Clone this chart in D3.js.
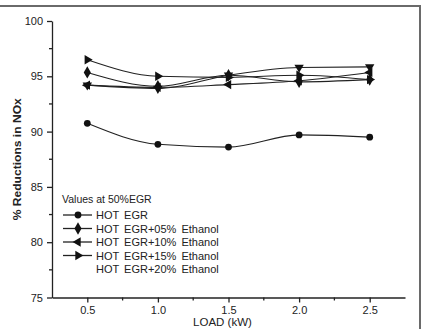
<!DOCTYPE html>
<html>
<head>
<meta charset="utf-8">
<script src="https://cdn.jsdelivr.net/npm/d3@7"></script>
<style>
  body { margin: 0; background: #fff; }
  svg { display: block; font-family: "Liberation Sans", Arial, sans-serif; }
  .axis path, .axis line { stroke: #222; stroke-width: 1.3px; }
  .axis text { fill: #222; font-size: 11px; }
  .series { fill: none; stroke: #222; stroke-width: 1.1px; }
</style>
</head>
<body>
<svg id="chart"></svg>
<script>
// loads in kW
var loads = [0.5, 1.0, 1.5, 2.0, 2.5];

// % reduction in NOx
var hotEgr     = [90.75, 88.85, 88.6, 89.7, 89.5];
var ethanol05  = [95.35, 94.1, 95.1, 94.5, 94.7];
var ethanol10  = [94.2, 94.0, 94.25, 94.6, 95.35];
var ethanol15  = [96.5, 95.0, 94.9, 95.1, 94.7];
var ethanol20  = [94.2, 93.9, 95.1, 95.8, 95.85];

var seriesNames = ['HOT EGR', 'HOT EGR+05% Ethanol', 'HOT EGR+10% Ethanol',
                   'HOT EGR+15% Ethanol', 'HOT EGR+20% Ethanol'];
var xTicks = [0.5, 1.0, 1.5, 2.0, 2.5];
var yTicks = [75, 80, 85, 90, 95, 100];

var series = [
  { name: seriesNames[0], values: hotEgr,    symbol: 'circle' },
  { name: seriesNames[1], values: ethanol05, symbol: 'diamond' },
  { name: seriesNames[2], values: ethanol10, symbol: 'left' },
  { name: seriesNames[3], values: ethanol15, symbol: 'right' },
  { name: seriesNames[4], values: ethanol20, symbol: 'down' }
];

var W = 423, H = 329;
var margin = { top: 21, left: 52 };
var plotW = 353, plotH = 276.5;

var svg = d3.select('#chart').attr('width', W).attr('height', H);

// outer frame (only top and right edges are visible)
svg.append('path')
  .attr('d', 'M0,6H420V' + H)
  .attr('fill', 'none')
  .attr('stroke', '#6a6a6a')
  .attr('stroke-width', 2);

var chart = svg.append('g')
  .attr('transform', `translate(${margin.left},${margin.top})`);

var x = d3.scaleLinear().domain([0.25, 2.75]).range([0, plotW]);
var y = d3.scaleLinear().domain([75, 100]).range([plotH, 0]);

/**
 * axes
 */
var xAxis = chart.append('g')
  .attr('class', 'axis x')
  .attr('transform', `translate(0,${plotH})`)
  .call(d3.axisBottom(x).tickValues(xTicks).tickFormat(d3.format('.1f'))
    .tickSize(5).tickSizeOuter(0).tickPadding(4));

xAxis.selectAll('.minor')
  .data([0.75, 1.25, 1.75, 2.25])
  .enter().append('line')
    .attr('class', 'minor')
    .attr('x1', d => x(d)).attr('x2', d => x(d))
    .attr('y1', 0).attr('y2', 3);

var yAxis = chart.append('g')
  .attr('class', 'axis y')
  .call(d3.axisLeft(y).tickValues(yTicks).tickSize(5).tickSizeOuter(0).tickPadding(4));

yAxis.selectAll('.minor')
  .data([77.5, 82.5, 87.5, 92.5, 97.5])
  .enter().append('line')
    .attr('class', 'minor')
    .attr('x1', 0).attr('x2', -3)
    .attr('y1', d => y(d)).attr('y2', d => y(d));

chart.append('text')
  .attr('x', plotW / 2 - 6)
  .attr('y', plotH + 28)
  .attr('text-anchor', 'middle')
  .attr('font-size', 11.5)
  .attr('fill', '#222')
  .text('LOAD (kW)');

chart.append('text')
  .attr('transform', `translate(${-31},${y(87.5)}) rotate(-90)`)
  .attr('text-anchor', 'middle')
  .attr('font-size', 11)
  .attr('font-weight', 'bold')
  .attr('textLength', 122)
  .attr('lengthAdjust', 'spacingAndGlyphs')
  .attr('fill', '#222')
  .text('% Reductions in NOx');

/**
 * markers
 */
var tri = d3.symbol().type(d3.symbolTriangle).size(38);
var rotation = { left: -90, right: 90, down: 180 };

var drawMarker = (g, kind) => {
  if (kind === 'circle') {
    g.append('circle').attr('r', 3.4);
  } else if (kind === 'diamond') {
    g.append('path').attr('d', d3.symbol().type(d3.symbolDiamond).size(44)());
  } else {
    g.append('path').attr('d', tri()).attr('transform', `rotate(${rotation[kind]})`);
  }
};

var line = d3.line()
  .x((d, i) => x(loads[i]))
  .y(d => y(d))
  .curve(d3.curveMonotoneX);

var groups = chart.selectAll('.s')
  .data(series)
  .enter().append('g')
    .attr('class', 's');

groups.append('path')
  .attr('class', 'series')
  .attr('d', d => line(d.values));

groups.each(function(s) {
  d3.select(this).selectAll('.m')
    .data(s.values)
    .enter().append('g')
      .attr('class', 'm')
      .attr('fill', '#111')
      .attr('transform', (d, i) => `translate(${x(loads[i])},${y(d)})`)
      .each(function() { drawMarker(d3.select(this), s.symbol); });
});

/**
 * legend
 */
var legend = chart.append('g').attr('transform', 'translate(10,182)');

legend.append('text')
  .attr('x', 0).attr('y', 0)
  .attr('font-size', 10.5)
  .attr('fill', '#222')
  .text('Values at 50%EGR');

var item = legend.selectAll('.item')
  .data(series)
  .enter().append('g')
    .attr('class', 'item')
    .attr('transform', (d, i) => `translate(0,${12 + i * 13.5})`);

item.filter((d, i) => i < 4).append('line')
  .attr('x1', 1).attr('x2', 30)
  .attr('y1', 0).attr('y2', 0)
  .attr('stroke', '#222').attr('stroke-width', 1.3);

item.filter((d, i) => i < 4).append('g')
  .attr('fill', '#111')
  .attr('transform', 'translate(16,0)')
  .each(function(d) { drawMarker(d3.select(this), d.symbol); });

item.append('text')
  .attr('x', 34).attr('y', 4)
  .attr('font-size', 11)
  .attr('word-spacing', 2)
  .attr('fill', '#222')
  .text(d => d.name);
</script>
</body>
</html>
